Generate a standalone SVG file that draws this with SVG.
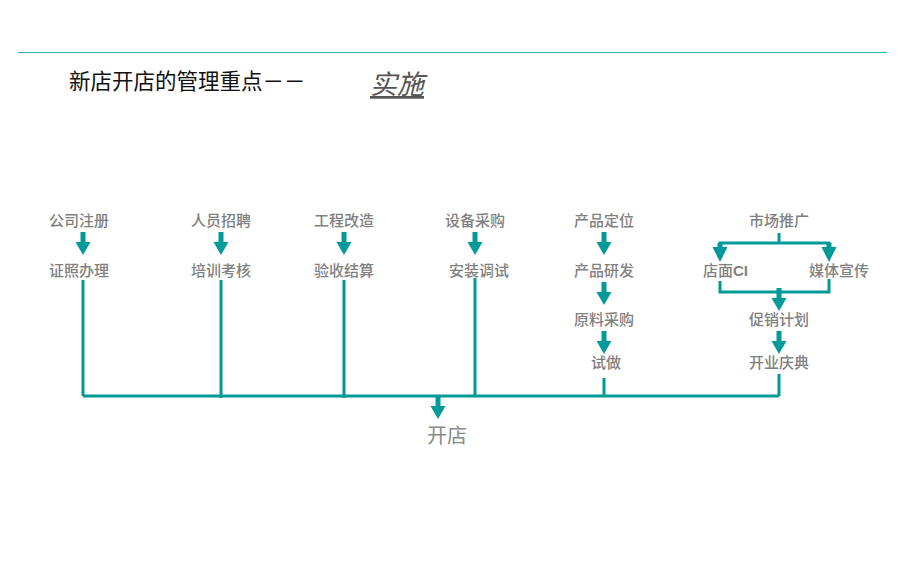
<svg xmlns="http://www.w3.org/2000/svg" xmlns:xlink="http://www.w3.org/1999/xlink" width="920" height="585" viewBox="0 0 920 585">
<style>
.lbl{font-family:"Noto Sans CJK SC","Liberation Sans",sans-serif;font-size:15px;font-weight:500;fill:#808080;text-anchor:middle}
.ln{stroke:#009a98;stroke-width:3;fill:none}
.ar{fill:#009a98}
</style>
<defs>
<path id="arr" d="M-2.5,0 H2.5 V10 H7.5 L0,23 L-7.5,10 H-2.5 Z"/>
<path id="arr2" d="M-2.5,0 H2.5 V4 H7.5 L0,19 L-7.5,4 H-2.5 Z"/>
</defs>
<rect width="920" height="585" fill="#ffffff"/>
<line x1="18" y1="52.5" x2="887" y2="52.5" stroke="#2ab5b2" stroke-width="1.2"/>
<g id="title">
<text x="69" y="89" font-family="'Noto Sans CJK SC','Liberation Sans',sans-serif" font-size="21.5" fill="#111">新店开店的管理重点－－</text>
<text x="370" y="94" font-family="'Noto Sans CJK SC','Liberation Sans',sans-serif" font-size="27" font-style="italic" fill="#555" text-decoration="underline">实施</text>
</g>
<g id="connectors">
<g class="ar">
<use xlink:href="#arr" x="83" y="232"/>
<use xlink:href="#arr" x="221" y="232"/>
<use xlink:href="#arr" x="344" y="232"/>
<use xlink:href="#arr" x="475" y="232"/>
<use xlink:href="#arr" x="604" y="232"/>
<use xlink:href="#arr" x="604" y="282"/>
<use xlink:href="#arr" x="604" y="331"/>
<use xlink:href="#arr2" x="720" y="243"/>
<use xlink:href="#arr2" x="829" y="243"/>
<use xlink:href="#arr" x="779" y="288"/>
<use xlink:href="#arr" x="779" y="331"/>
<use xlink:href="#arr" x="438" y="396"/>
</g>
<path class="ln" d="M83,280 V396 M221,280 V398 M344,280 V398 M475,278 V396 M604,378 V396 M779,374 V396 M83,396 H779"/>
<path class="ln" d="M779,233 V243 M718.5,243 H830.5"/>
<path class="ln" d="M720,281 V292 H829 V279"/>
</g>
<g id="n-gszc"><text class="lbl" x="79" y="226">公司注册</text></g>
<g id="n-zzbl"><text class="lbl" x="79" y="276">证照办理</text></g>
<g id="n-rypp"><text class="lbl" x="221" y="226">人员招聘</text></g>
<g id="n-pxkh"><text class="lbl" x="221" y="276">培训考核</text></g>
<g id="n-gcgz"><text class="lbl" x="344" y="226">工程改造</text></g>
<g id="n-ysjs"><text class="lbl" x="344" y="276">验收结算</text></g>
<g id="n-sbcg"><text class="lbl" x="475" y="226">设备采购</text></g>
<g id="n-azts"><text class="lbl" x="479" y="276">安装调试</text></g>
<g id="n-cpdw"><text class="lbl" x="604" y="226">产品定位</text></g>
<g id="n-cpyf"><text class="lbl" x="604" y="276">产品研发</text></g>
<g id="n-ylcg"><text class="lbl" x="604" y="325">原料采购</text></g>
<g id="n-sz"><text class="lbl" x="606" y="368">试做</text></g>
<g id="n-sctg"><text class="lbl" x="779" y="226">市场推广</text></g>
<g id="n-dmci"><text class="lbl" x="725.5" y="276">店面<tspan font-weight="bold" font-family="'Liberation Sans',sans-serif">CI</tspan></text></g>
<g id="n-mtxc"><text class="lbl" x="839" y="276">媒体宣传</text></g>
<g id="n-cxjh"><text class="lbl" x="779" y="325">促销计划</text></g>
<g id="n-kyqd"><text class="lbl" x="779" y="368">开业庆典</text></g>
<g id="n-kd"><text x="447" y="443" font-family="'Noto Sans CJK SC','Liberation Sans',sans-serif" font-size="20" fill="#8a8a8a" text-anchor="middle">开店</text></g>
</svg>
